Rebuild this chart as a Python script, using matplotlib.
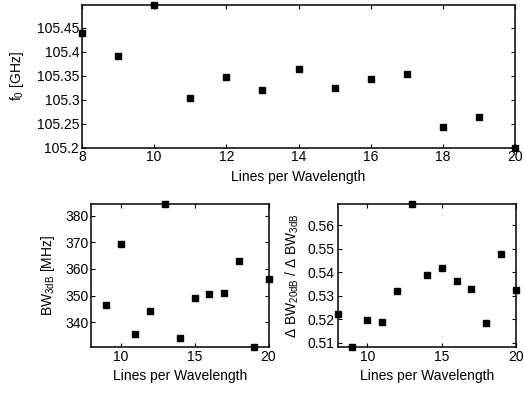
import matplotlib
matplotlib.use("Agg")
import matplotlib.pyplot as plt
from matplotlib.ticker import FormatStrFormatter, MultipleLocator

plt.rcParams['font.family'] = ['Liberation Sans', 'DejaVu Sans']
plt.rcParams['mathtext.fontset'] = 'custom'
plt.rcParams['mathtext.rm'] = 'Liberation Sans'
plt.rcParams['mathtext.it'] = 'Liberation Sans'

# data
lines_top = [8, 9, 10, 11, 12, 13, 14, 15, 16, 17, 18, 19, 20]
f0_ghz = [105.438, 105.390, 105.497, 105.303, 105.347, 105.319, 105.364,
          105.323, 105.343, 105.353, 105.243, 105.264, 105.200]

lines_bw = [9, 10, 11, 12, 13, 14, 15, 16, 17, 18, 19, 20]
bw3db_mhz = [346.6, 369.5, 335.6, 344.1, 384.5, 334.1, 349.0, 350.5, 351.0,
             363.1, 330.6, 356.1]

lines_ratio = [8, 9, 10, 11, 12, 13, 14, 15, 16, 17, 18, 19, 20]
bw_ratio = [0.5224, 0.5083, 0.5199, 0.5189, 0.5322, 0.5690, 0.5390, 0.5417,
            0.5365, 0.5328, 0.5183, 0.5476, 0.5324]

xlabel = "Lines per Wavelength"

fig = plt.figure(figsize=(5.24, 3.94), dpi=100)

W, H = 524.0, 394.0
def ax_at(l, t, r, b):
    return fig.add_axes([l / W, 1 - b / H, (r - l) / W, (b - t) / H])

ax1 = ax_at(82, 5, 515, 147.5)
ax2 = ax_at(91, 204, 268.5, 347)
ax3 = ax_at(337.5, 204, 516, 347)

def style(ax):
    ax.tick_params(direction='in', length=3, width=0.8, top=True, right=True,
                   labelsize=10, pad=2, colors='black')
    for s in ax.spines.values():
        s.set_linewidth(1.1)

# top
ax1.plot(lines_top, f0_ghz, 's', color='black', markersize=4.5, clip_on=False)
ax1.set_xlim(8, 20)
ax1.set_ylim(min(f0_ghz), max(f0_ghz))
ax1.xaxis.set_major_locator(MultipleLocator(2))
ax1.yaxis.set_major_locator(MultipleLocator(0.05))
ax1.yaxis.set_major_formatter(FormatStrFormatter('%g'))
ax1.set_xlabel(xlabel, fontsize=10, labelpad=4)
ax1.set_ylabel(r"f$_\mathrm{0}$ [GHz]", fontsize=10, labelpad=8)
style(ax1)

# bottom left
ax2.plot(lines_bw, bw3db_mhz, 's', color='black', markersize=4.5, clip_on=False)
ax2.set_xlim(8, 20)
ax2.set_ylim(min(bw3db_mhz), max(bw3db_mhz))
ax2.xaxis.set_major_locator(MultipleLocator(5))
ax2.yaxis.set_major_locator(MultipleLocator(10))
ax2.yaxis.set_major_formatter(FormatStrFormatter('%g'))
ax2.set_xlabel(xlabel, fontsize=10, labelpad=4)
ax2.set_ylabel(r"BW$_\mathrm{3dB}$ [MHz]", fontsize=10, labelpad=6)
style(ax2)

# bottom right
ax3.plot(lines_ratio, bw_ratio, 's', color='black', markersize=4.5, clip_on=False)
ax3.set_xlim(8, 20)
ax3.set_ylim(min(bw_ratio), max(bw_ratio))
ax3.xaxis.set_major_locator(MultipleLocator(5))
ax3.yaxis.set_major_locator(MultipleLocator(0.01))
ax3.yaxis.set_major_formatter(FormatStrFormatter('%g'))
ax3.set_xlabel(xlabel, fontsize=10, labelpad=4)
ax3.set_ylabel(r"$\Delta$ BW$_\mathrm{20dB}$ / $\Delta$ BW$_\mathrm{3dB}$", fontsize=10, labelpad=5)
style(ax3)

fig.savefig("out.png", dpi=100)
